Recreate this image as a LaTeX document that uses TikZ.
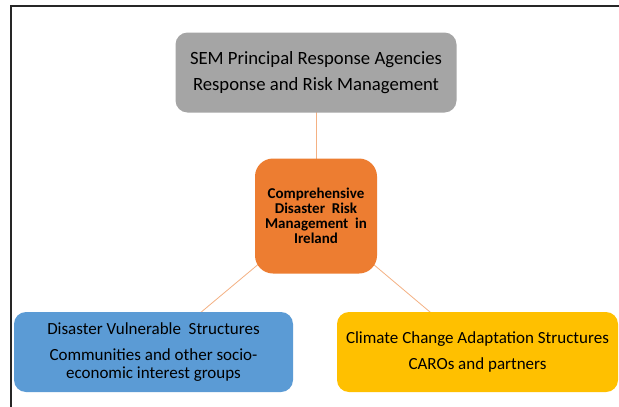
\documentclass[tikz,border=0pt]{standalone}
\usepackage{fontspec}
\setmainfont{Carlito}
\usetikzlibrary{backgrounds}
\definecolor{boxgray}{HTML}{A5A5A5}
\definecolor{boxorange}{HTML}{ED7D31}
\definecolor{boxblue}{HTML}{5B9BD5}
\definecolor{boxyellow}{HTML}{FFC000}
\definecolor{linkorange}{HTML}{F4B183}
\begin{document}
\begin{tikzpicture}[x=1pt,y=-1pt,
  box/.style={rectangle, rounded corners=12pt, align=center, inner sep=0pt,
    font=\fontsize{17}{18}\selectfont, text=black},
  hub/.style={rectangle, rounded corners=18pt, align=center, inner sep=0pt,
    fill=boxorange, minimum width=122pt, minimum height=115pt,
    font=\fontsize{15}{15}\selectfont\bfseries, text=black},
  link/.style={draw=linkorange, line width=0.8pt}]
\useasboundingbox (0,0) rectangle (619,407);
% frame
\draw[line width=1.6pt, black!85] (11,407) -- (11,6) -- (619,6);
% boxes
\node[box, fill=boxgray, minimum width=281pt, minimum height=80pt,
  font=\fontsize{18.7}{22}\selectfont] (sem) at (316,72.5)
  {SEM Principal Response Agencies\\[4.5pt]Response and Risk Management};
\node[hub] (cdrm) at (316,216)
  {Comprehensive\\Disaster\ \ Risk\\Management\ \ in\\Ireland};
\node[box, fill=boxblue, minimum width=279pt, minimum height=80pt] (dvs) at (153.5,352)
  {Disaster Vulnerable\ \ Structures\\[8pt]Communities and other socio-\\economic interest groups};
\node[box, fill=boxyellow, minimum width=281pt, minimum height=80pt] (cca) at (477.5,352)
  {Climate Change Adaptation Structures\\[8pt]CAROs and partners};
% white page and connectors behind the boxes
\begin{pgfonlayer}{background}
\fill[white] (0,0) rectangle (619,407);
\draw[link] (sem.center) -- (cdrm.center);
\draw[link] (cdrm.center) -- (dvs.center);
\draw[link] (cdrm.center) -- (cca.center);
\end{pgfonlayer}
\end{tikzpicture}
\end{document}
